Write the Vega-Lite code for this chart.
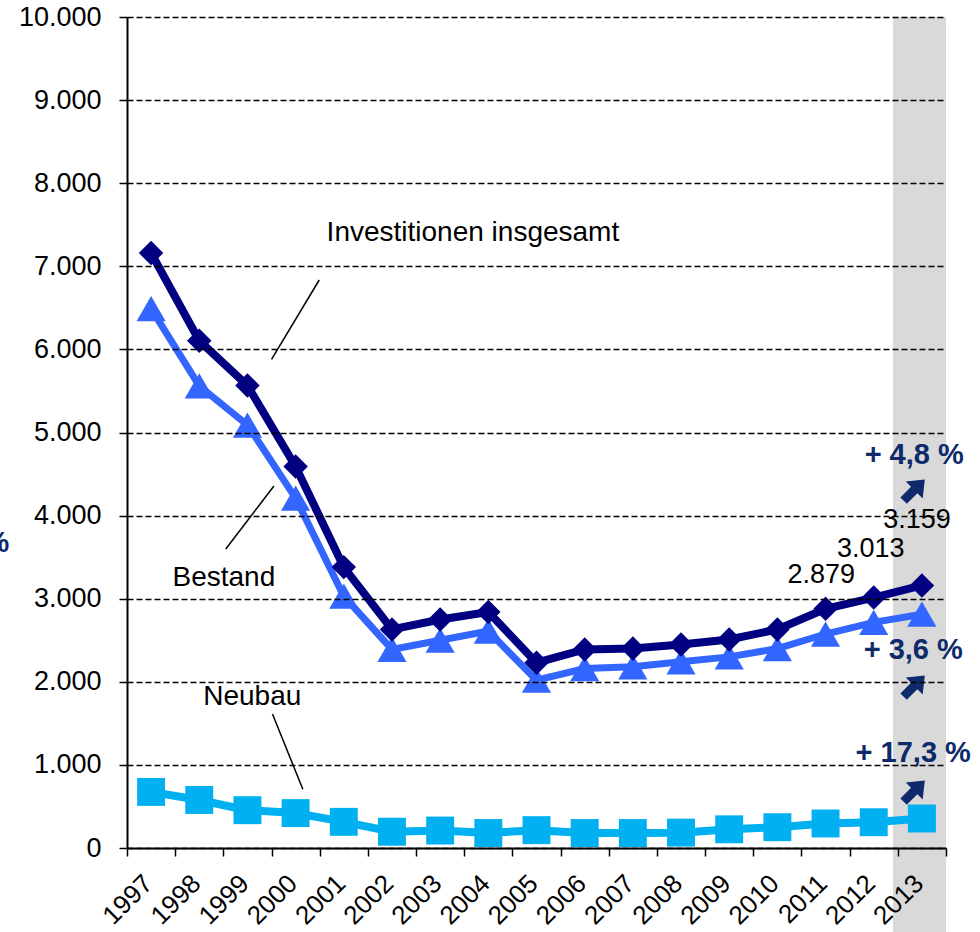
{
  "$schema": "https://vega.github.io/schema/vega-lite/v6.json",
  "width": 819,
  "height": 831,
  "autosize": {"type": "none"},
  "padding": {"left": 127, "top": 17, "right": 34, "bottom": 84},
  "background": "white",
  "config": {"view": {"stroke": null}, "font": "Liberation Sans"},
  "datasets": {
    "band": [{"year": 2012.4, "year2": 2013.5, "value": 10000, "value2": -1020}],
    "gesamt": [
      {"year": 1997, "value": 7160}, {"year": 1998, "value": 6105}, {"year": 1999, "value": 5565},
      {"year": 2000, "value": 4590}, {"year": 2001, "value": 3380}, {"year": 2002, "value": 2630},
      {"year": 2003, "value": 2750}, {"year": 2004, "value": 2840}, {"year": 2005, "value": 2230},
      {"year": 2006, "value": 2390}, {"year": 2007, "value": 2400}, {"year": 2008, "value": 2450},
      {"year": 2009, "value": 2510}, {"year": 2010, "value": 2630}, {"year": 2011, "value": 2879},
      {"year": 2012, "value": 3013}, {"year": 2013, "value": 3159}
    ],
    "bestand": [
      {"year": 1997, "value": 6490}, {"year": 1998, "value": 5560}, {"year": 1999, "value": 5090},
      {"year": 2000, "value": 4210}, {"year": 2001, "value": 3030}, {"year": 2002, "value": 2390},
      {"year": 2003, "value": 2500}, {"year": 2004, "value": 2610}, {"year": 2005, "value": 2020},
      {"year": 2006, "value": 2160}, {"year": 2007, "value": 2180}, {"year": 2008, "value": 2240},
      {"year": 2009, "value": 2300}, {"year": 2010, "value": 2400}, {"year": 2011, "value": 2575},
      {"year": 2012, "value": 2715}, {"year": 2013, "value": 2813}
    ],
    "neubau": [
      {"year": 1997, "value": 675}, {"year": 1998, "value": 578}, {"year": 1999, "value": 455},
      {"year": 2000, "value": 420}, {"year": 2001, "value": 315}, {"year": 2002, "value": 196},
      {"year": 2003, "value": 210}, {"year": 2004, "value": 180}, {"year": 2005, "value": 215},
      {"year": 2006, "value": 180}, {"year": 2007, "value": 180}, {"year": 2008, "value": 185},
      {"year": 2009, "value": 225}, {"year": 2010, "value": 250}, {"year": 2011, "value": 295},
      {"year": 2012, "value": 310}, {"year": 2013, "value": 355}
    ],
    "leaders": [
      {"year": 2000.49, "year2": 1999.5, "value": 6835, "value2": 5881},
      {"year": 1999.55, "year2": 1998.55, "value": 4356, "value2": 3598},
      {"year": 1999.52, "year2": 2000.15, "value": 1612, "value2": 706}
    ],
    "names": [
      {"year": 2003.68, "value": 7401, "text": "Investitionen insgesamt"},
      {"year": 1998.51, "value": 3249, "text": "Bestand"},
      {"year": 1999.1, "value": 1817, "text": "Neubau"}
    ],
    "numbers": [
      {"year": 2010.91, "value": 3285, "text": "2.879"},
      {"year": 2011.94, "value": 3598, "text": "3.013"},
      {"year": 2012.9, "value": 3947, "text": "3.159"}
    ],
    "changes": [
      {"year": 2012.84, "value": 4729, "text": "+ 4,8 %"},
      {"year": 2012.82, "value": 2383, "text": "+ 3,6 %"},
      {"year": 2012.82, "value": 1143, "text": "+ 17,3 %"},
      {"year": 1993.79, "value": 3670, "text": "%"}
    ],
    "arrows": [
      {"year": 2012.84, "value": 4308},
      {"year": 2012.84, "value": 1949},
      {"year": 2012.84, "value": 686}
    ]
  },
  "layer": [
    {
      "data": {"name": "band"},
      "mark": {"type": "rect", "color": "#D9D9D9"},
      "encoding": {
        "x": {"field": "year", "type": "quantitative"},
        "x2": {"field": "year2"},
        "y": {"field": "value", "type": "quantitative"},
        "y2": {"field": "value2"}
      }
    },
    {
      "data": {"name": "neubau"},
      "mark": {"type": "line", "color": "#00B0F0", "strokeWidth": 8},
      "encoding": {
        "x": {
          "field": "year", "type": "quantitative",
          "scale": {"domain": [1996.5, 2013.5], "nice": false, "zero": false},
          "axis": {
            "title": null, "zindex": 1, "grid": false,
            "values": [1996.5, 1997.5, 1998.5, 1999.5, 2000.5, 2001.5, 2002.5, 2003.5, 2004.5, 2005.5, 2006.5, 2007.5, 2008.5, 2009.5, 2010.5, 2011.5, 2012.5, 2013.5],
            "labelExpr": "datum.value > 2013 ? '' : '' + (datum.value + 0.5)",
            "labelAngle": -45, "labelAlign": "right", "labelBaseline": "middle",
            "labelOffset": 21, "labelPadding": 23, "labelFontSize": 26, "labelColor": "black",
            "labelOverlap": false, "labelBound": false, "labelFlush": false,
            "tickColor": "black", "tickSize": 8, "tickWidth": 1.5,
            "domainColor": "black", "domainWidth": 2
          }
        },
        "y": {
          "field": "value", "type": "quantitative",
          "scale": {"domain": [0, 10000], "nice": false},
          "axis": {
            "title": null, "zindex": 1,
            "values": [0, 1000, 2000, 3000, 4000, 5000, 6000, 7000, 8000, 9000, 10000],
            "labelExpr": "replace(format(datum.value, ','), ',', '.')",
            "labelFontSize": 27, "labelColor": "black", "labelPadding": 18,
            "labelOverlap": false, "labelBound": false, "labelFlush": false,
            "tickColor": "black", "tickSize": 8, "tickWidth": 1.5,
            "domainColor": "black", "domainWidth": 2,
            "grid": true, "gridColor": "black", "gridDash": [6, 3], "gridWidth": 1.5
          }
        }
      }
    },
    {
      "data": {"name": "neubau"},
      "mark": {"type": "point", "shape": "square", "filled": true, "opacity": 1, "color": "#00B0F0", "size": 780},
      "encoding": {
        "x": {"field": "year", "type": "quantitative"},
        "y": {"field": "value", "type": "quantitative"}
      }
    },
    {
      "data": {"name": "bestand"},
      "mark": {"type": "line", "color": "#3366FF", "strokeWidth": 7},
      "encoding": {
        "x": {"field": "year", "type": "quantitative"},
        "y": {"field": "value", "type": "quantitative"}
      }
    },
    {
      "data": {"name": "bestand"},
      "mark": {"type": "point", "shape": "triangle-up", "filled": true, "opacity": 1, "color": "#3366FF", "size": 850},
      "encoding": {
        "x": {"field": "year", "type": "quantitative"},
        "y": {"field": "value", "type": "quantitative"}
      }
    },
    {
      "data": {"name": "gesamt"},
      "mark": {"type": "line", "color": "#000080", "strokeWidth": 8},
      "encoding": {
        "x": {"field": "year", "type": "quantitative"},
        "y": {"field": "value", "type": "quantitative"}
      }
    },
    {
      "data": {"name": "gesamt"},
      "mark": {"type": "point", "shape": "diamond", "filled": true, "opacity": 1, "color": "#000080", "size": 600},
      "encoding": {
        "x": {"field": "year", "type": "quantitative"},
        "y": {"field": "value", "type": "quantitative"}
      }
    },
    {
      "data": {"name": "leaders"},
      "mark": {"type": "rule", "color": "black", "strokeWidth": 1.5},
      "encoding": {
        "x": {"field": "year", "type": "quantitative"},
        "x2": {"field": "year2"},
        "y": {"field": "value", "type": "quantitative"},
        "y2": {"field": "value2"}
      }
    },
    {
      "data": {"name": "names"},
      "mark": {"type": "text", "fontSize": 28, "color": "black", "align": "center", "baseline": "middle"},
      "encoding": {
        "x": {"field": "year", "type": "quantitative"},
        "y": {"field": "value", "type": "quantitative"},
        "text": {"field": "text"}
      }
    },
    {
      "data": {"name": "numbers"},
      "mark": {"type": "text", "fontSize": 27, "color": "black", "align": "center", "baseline": "middle"},
      "encoding": {
        "x": {"field": "year", "type": "quantitative"},
        "y": {"field": "value", "type": "quantitative"},
        "text": {"field": "text"}
      }
    },
    {
      "data": {"name": "changes"},
      "mark": {"type": "text", "fontSize": 29, "fontWeight": "bold", "color": "#0E2A6B", "align": "center", "baseline": "middle"},
      "encoding": {
        "x": {"field": "year", "type": "quantitative"},
        "y": {"field": "value", "type": "quantitative"},
        "text": {"field": "text"}
      }
    },
    {
      "data": {"name": "arrows"},
      "mark": {"type": "point", "shape": "M-0.3,1L-0.3,0L-0.8,0L0,-1L0.8,0L0.3,0L0.3,1Z", "angle": 45, "filled": true, "opacity": 1, "color": "#0E2A6B", "size": 900},
      "encoding": {
        "x": {"field": "year", "type": "quantitative"},
        "y": {"field": "value", "type": "quantitative"}
      }
    }
  ]
}
